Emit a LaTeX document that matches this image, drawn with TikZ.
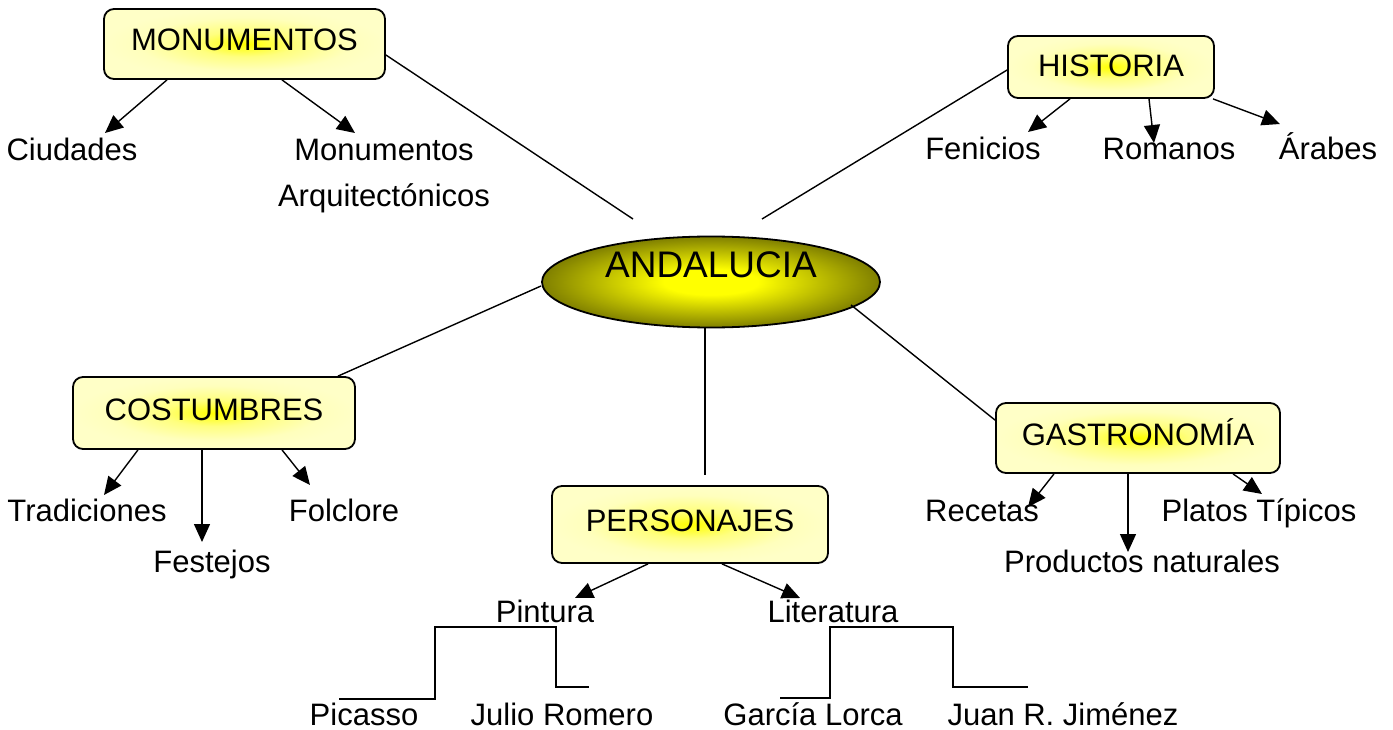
\documentclass[tikz,border=0pt]{standalone}
\usepackage{fontspec}
\setmainfont{Liberation Sans}
\usetikzlibrary{arrows.meta,shapes.geometric}
\pgfdeclareradialshading{boxglow}{\pgfpoint{0bp}{0bp}}{color(0bp)=(yellow); color(9bp)=(yellow!50); color(19bp)=(yellow!26); color(25bp)=(yellow!22); color(50bp)=(yellow!22)}
\pgfdeclareradialshading{ellglow}{\pgfpoint{0bp}{0bp}}{color(0bp)=(yellow); color(7bp)=(yellow); color(25bp)=(olive); color(50bp)=(olive)}
\begin{document}
\begin{tikzpicture}[x=1pt,y=-1pt,
  box/.style={draw=black, line width=1.8pt, rounded corners=10pt, shade, shading=boxglow, inner sep=0pt, text height=22pt, text depth=8pt, font=\fontsize{31}{37}\selectfont},
  lbl/.style={anchor=base, inner sep=0pt, font=\fontsize{31}{37}\selectfont},
  link/.style={line width=1.4pt},
  steplink/.style={line width=1.8pt},
  arr/.style={line width=1.4pt, -{Triangle[length=18pt,width=16pt]}},
]
\fill[white, use as bounding box] (0,0) rectangle (1393,730);

% central ellipse
\node[ellipse, draw=black, line width=1.8pt, shade, shading=ellglow, minimum width=338pt, minimum height=91pt, inner sep=0pt, text height=27pt, text depth=37pt, font=\fontsize{37}{44}\selectfont] (and) at (711,282) {ANDALUCIA};

% boxes
\node[box, minimum width=281pt, minimum height=70pt] (mon) at (244.5,44) {MONUMENTOS};
\node[box, minimum width=206pt, minimum height=62pt, text depth=2pt] (his) at (1111,67) {HISTORIA};
\node[box, minimum width=282pt, minimum height=72pt] (cos) at (214,413) {COSTUMBRES};
\node[box, minimum width=276pt, minimum height=77pt] (per) at (690,524.5) {PERSONAJES};
\node[box, minimum width=284pt, minimum height=70pt] (gas) at (1138,438) {GASTRONOMÍA};

% labels
\node[lbl] (ciu) at (72,161) {Ciudades};
\node[lbl] (mna) at (384,161) {Monumentos};
\node[lbl] (arq) at (384,207) {Arquitectónicos};
\node[lbl] (fen) at (983,160) {Fenicios};
\node[lbl] (rom) at (1169,160) {Romanos};
\node[lbl] (ara) at (1328,160) {Árabes};
\node[lbl] (tra) at (87,521) {Tradiciones};
\node[lbl] (fes) at (212,572) {Festejos};
\node[lbl] (fol) at (344,521) {Folclore};
\node[lbl] (rec) at (982,521) {Recetas};
\node[lbl] (pro) at (1142,572) {Productos naturales};
\node[lbl] (pla) at (1259,521) {Platos Típicos};
\node[lbl] (pin) at (545,622) {Pintura};
\node[lbl] (lit) at (833,622) {Literatura};
\node[lbl] (pic) at (364,725) {Picasso};
\node[lbl] (jul) at (562,725) {Julio Romero};
\node[lbl] (gar) at (813,725) {García Lorca};
\node[lbl] (jua) at (1063,725) {Juan R. Jiménez};

% free ends of links near the ellipse
\coordinate (eM) at (633,219);
\coordinate (eH) at (762,219);
\coordinate (eC) at (541,286);
\coordinate (eG) at (851,305);
\coordinate (eP) at (705,475);

\draw[link] ([yshift=-11pt]mon.east) -- (eM);
\draw[link] ([yshift=-3pt]his.west) -- (eH);
\draw[link] ([xshift=124pt]cos.north) -- (eC);
\draw[link] ([yshift=-18pt]gas.north west) -- (eG);
\draw[link] ([xshift=-6pt]and.south) -- (eP);

% arrow tips
\coordinate (tCiu) at (105,133);
\coordinate (tMon) at (355,133);
\coordinate (tFen) at (1028,132);
\coordinate (tRom) at (1154,143);
\coordinate (tAra) at (1280,124);
\coordinate (tTra) at (104,495);
\coordinate (tFes) at (202,542);
\coordinate (tFol) at (310,485);
\coordinate (tRec) at (1028,507);
\coordinate (tPro) at (1128,552);
\coordinate (tPla) at (1262,494);
\coordinate (tPin) at (575,598);
\coordinate (tLit) at (800,598);

\draw[arr] ([xshift=-77.5pt]mon.south) -- (tCiu);
\draw[arr] ([xshift=37.5pt]mon.south) -- (tMon);
\draw[arr] ([xshift=-41pt]his.south) -- (tFen);
\draw[arr] ([xshift=38pt]his.south) -- (tRom);
\draw[arr] ([xshift=102pt]his.south) -- (tAra);
\draw[arr] ([xshift=-76pt]cos.south) -- (tTra);
\draw[arr] ([xshift=-12pt]cos.south) -- (tFes);
\draw[arr] ([xshift=68pt]cos.south) -- (tFol);
\draw[arr] ([xshift=-84pt]gas.south) -- (tRec);
\draw[arr] ([xshift=-10pt]gas.south) -- (tPro);
\draw[arr] ([xshift=95pt]gas.south) -- (tPla);
\draw[arr] ([xshift=-42pt]per.south) -- (tPin);
\draw[arr] ([xshift=32pt]per.south) -- (tLit);

% step lines
\draw[steplink] (339,699) -- (435,699) -- (435,627) -- (556,627) -- (556,687) -- (589,687);
\draw[steplink] (780,698) -- (830,698) -- (830,627) -- (953,627) -- (953,687) -- (1028,687);
\end{tikzpicture}
\end{document}
